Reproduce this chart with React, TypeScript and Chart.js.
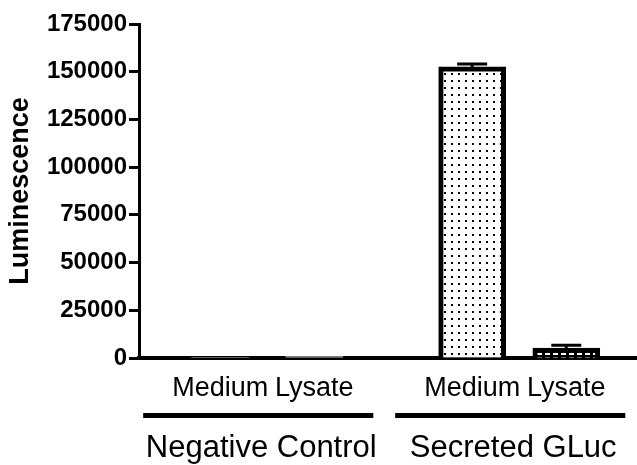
import React, { useEffect, useRef } from "react";
import { Chart, registerables } from "chart.js";

Chart.register(...registerables);

const tickLabels = ["Medium", "Lysate", "Medium", "Lysate"];
const xPositions = [1.63, 3.52, 6.69, 8.58];
const luminescence = [500, 900, 152500, 5200];
const errors = [0, 0, 1500, 1500];
const groups = [
  { label: "Negative Control", first: 0, last: 1 },
  { label: "Secreted GLuc", first: 2, last: 3 },
];
const yTicks = [0, 25000, 50000, 75000, 100000, 125000, 150000, 175000];

const FONT = "'Liberation Sans', Arial, sans-serif";

function makeDotPattern(): CanvasPattern | string {
  const c = document.createElement("canvas");
  c.width = 7;
  c.height = 7;
  const g = c.getContext("2d");
  if (!g) return "#fff";
  g.fillStyle = "#fff";
  g.fillRect(0, 0, 7, 7);
  g.fillStyle = "#000";
  g.fillRect(3, 3, 2, 2);
  const p = g.createPattern(c, "repeat");
  return p || "#fff";
}

function makeCheckPattern(): CanvasPattern | string {
  const c = document.createElement("canvas");
  c.width = 8;
  c.height = 4;
  const g = c.getContext("2d");
  if (!g) return "#000";
  g.fillStyle = "#000";
  g.fillRect(0, 0, 8, 4);
  g.fillStyle = "#fff";
  g.fillRect(1, 1, 5, 2);
  const p = g.createPattern(c, "repeat");
  return p || "#000";
}

export default function App() {
  const ref = useRef<HTMLCanvasElement | null>(null);

  useEffect(() => {
    document.body.style.margin = "0";
    const canvas = ref.current;
    if (!canvas) return;
    const dots = makeDotPattern();
    const check = makeCheckPattern();

    const extras = {
      id: "extras",
      afterDatasetsDraw(chart: any) {
        const ctx = chart.ctx;
        const xs = chart.scales.x;
        const ys = chart.scales.y;
        ctx.save();
        ctx.strokeStyle = "#000";
        ctx.lineWidth = 3;
        luminescence.forEach((v, i) => {
          const e = errors[i];
          if (!e) return;
          const cx = xs.getPixelForValue(xPositions[i]);
          const yt = ys.getPixelForValue(v + e);
          const yb = ys.getPixelForValue(v);
          ctx.beginPath();
          ctx.moveTo(cx, yb);
          ctx.lineTo(cx, yt);
          ctx.moveTo(cx - 15, yt);
          ctx.lineTo(cx + 15, yt);
          ctx.stroke();
        });
        ctx.restore();
      },
      afterDraw(chart: any) {
        const ctx = chart.ctx;
        const xs = chart.scales.x;
        ctx.save();
        ctx.fillStyle = "#000";
        ctx.textAlign = "center";
        ctx.textBaseline = "alphabetic";
        ctx.font = "31px " + FONT;
        groups.forEach((g) => {
          const l = xs.getPixelForValue(xPositions[g.first]) - 77;
          const r = xs.getPixelForValue(xPositions[g.last]) + 59;
          ctx.fillRect(l, 413, r - l, 5);
          ctx.fillText(g.label, (l + r) / 2 + 3, 457);
        });
        ctx.restore();
      },
    };

    const chart = new Chart(canvas, {
      type: "bar",
      data: {
        datasets: [
          {
            data: xPositions.map((x, i) => ({ x, y: luminescence[i] })),
            backgroundColor: [dots, dots, dots, check] as any,
            borderColor: "#000",
            borderWidth: 5,
            borderSkipped: "bottom",
            barThickness: 67,
          },
        ],
      },
      options: {
        animation: false,
        responsive: false,
        layout: { padding: { top: 24, right: 0, left: 0, bottom: 0 } },
        plugins: { legend: { display: false }, tooltip: { enabled: false } },
        scales: {
          x: {
            type: "linear",
            offset: false,
            min: 0,
            max: 10,
            afterBuildTicks(scale: any) {
              scale.ticks = xPositions.map((v) => ({ value: v }));
            },
            afterFit(scale: any) {
              scale.height = 107;
            },
            ticks: {
              autoSkip: false,
              maxRotation: 0,
              padding: 14,
              color: "#000",
              font: { family: FONT, size: 27 },
              callback: (_v: any, i: number) => tickLabels[i],
            },
            grid: { display: false, drawTicks: false },
            border: { color: "#000", width: 4 },
          },
          y: {
            min: 0,
            max: 175000,
            afterBuildTicks(scale: any) {
              scale.ticks = yTicks.map((v) => ({ value: v }));
            },
            afterFit(scale: any) {
              scale.width = 139;
            },
            title: {
              display: true,
              text: "Luminescence",
              color: "#000",
              font: { family: FONT, size: 27, weight: "bold" },
              padding: { top: 4, bottom: 0 },
            },
            ticks: {
              padding: 2,
              color: "#000",
              font: { family: FONT, size: 24, weight: "bold" },
              callback: (v: any) => String(v),
            },
            grid: {
              drawOnChartArea: false,
              drawTicks: true,
              tickLength: 10,
              tickWidth: 3,
              color: "#000",
            },
            border: { color: "#000", width: 3 },
          },
        },
      },
      plugins: [extras],
    });
    return () => chart.destroy();
  }, []);

  return <canvas ref={ref} width={637} height={465} style={{ display: "block" }} />;
}
